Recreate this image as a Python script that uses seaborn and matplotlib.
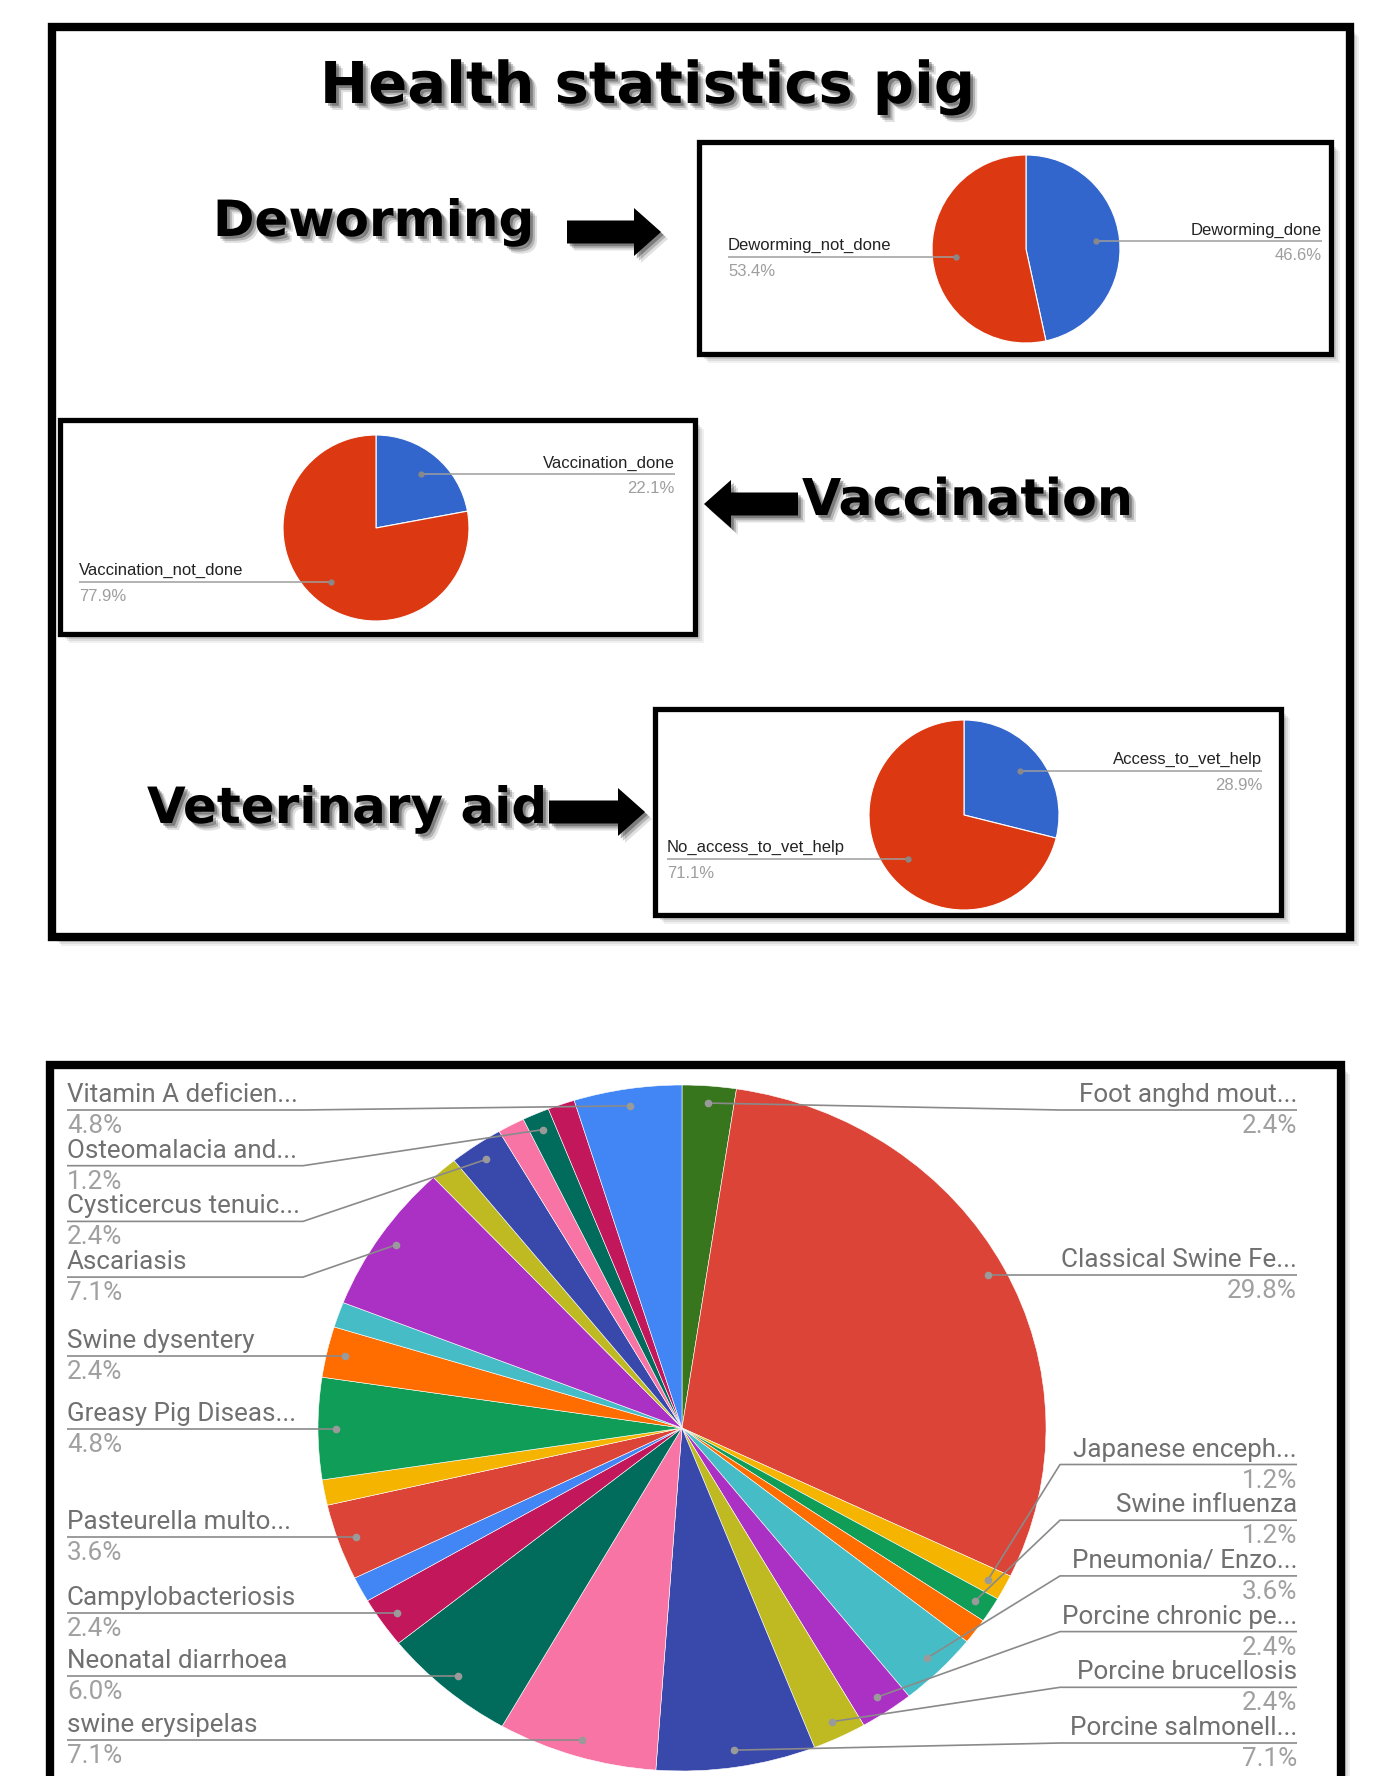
import numpy as np
import matplotlib
matplotlib.use("Agg")
import matplotlib.pyplot as plt
import matplotlib.patches as mpatches
import matplotlib.patheffects as pe
import seaborn as sns

W, H = 1378, 1776

# ── data ──────────────────────────────────────────────────────────────────────
deworm_labels = ["Deworming_done", "Deworming_not_done"]
deworm_pct = [46.6, 53.4]

vacc_labels = ["Vaccination_done", "Vaccination_not_done"]
vacc_pct = [22.1, 77.9]

vet_labels = ["Access_to_vet_help", "No_access_to_vet_help"]
vet_pct = [28.9, 71.1]

# clockwise from 12 o'clock; None = label hidden in the original chart
disease_labels = [
    "Foot anghd mout...", "Classical Swine Fe...", "Japanese enceph...",
    "Swine influenza", None, "Pneumonia/ Enzo...", "Porcine chronic pe...",
    "Porcine brucellosis", "Porcine salmonell...", "swine erysipelas",
    "Neonatal diarrhoea", "Campylobacteriosis", None, "Pasteurella multo...",
    None, "Greasy Pig Diseas...", "Swine dysentery", None, "Ascariasis", None,
    "Cysticercus tenuic...", None, "Osteomalacia and...", None,
    "Vitamin A deficien...",
]
disease_pct = [2.4, 29.8, 1.2, 1.2, 1.2, 3.6, 2.4, 2.4, 7.1, 7.1, 6.0, 2.4,
               1.2, 3.6, 1.2, 4.8, 2.4, 1.2, 7.1, 1.2, 2.4, 1.2, 1.2, 1.2, 4.8]

SMALL_COLORS = ["#3366cc", "#dc3912"]
SHEETS = ["#4285f4", "#db4437", "#f4b400", "#0f9d58", "#ff6d00", "#46bdc6",
          "#ab30c4", "#c0ba22", "#3949ab", "#f774a5", "#016b5c", "#c2185b"]
DISEASE_COLORS = sns.color_palette(["#38761d"] + [SHEETS[i % 12] for i in range(1, len(disease_pct))])

LINE = "#9e9e9e"

sns.set_theme(style="white")
plt.rcParams["font.family"] = ["DejaVu Sans"]

fig = plt.figure(figsize=(W / 100, H / 100), dpi=100, facecolor="white")

ax_bg = fig.add_axes([0, 0, 1, 1])
ax_bg.set_xlim(0, W)
ax_bg.set_ylim(H, 0)
ax_bg.axis("off")


def box(ax, x0, y0, x1, y1, lw):
    for k, a in [(9, 0.06), (7, 0.08), (5, 0.1), (3, 0.14)]:
        ax.add_patch(mpatches.Rectangle((x0 + k, y0 + k), x1 - x0, y1 - y0,
                                        facecolor="black", edgecolor="none", alpha=a))
    ax.add_patch(mpatches.Rectangle((x0, y0), x1 - x0, y1 - y0, facecolor="white",
                                    edgecolor="black", lw=lw))


SHADOW = [pe.SimplePatchShadow(offset=(5, -5), shadow_rgbFace="black", alpha=0.12),
          pe.SimplePatchShadow(offset=(3.5, -3.5), shadow_rgbFace="black", alpha=0.2),
          pe.SimplePatchShadow(offset=(2, -2), shadow_rgbFace="black", alpha=0.3),
          pe.Normal()]

# frames
box(ax_bg, 52, 27, 1350, 937, 6)
box(ax_bg, 699, 142, 1331, 354, 3.8)
box(ax_bg, 60, 420, 695, 634, 3.8)
box(ax_bg, 655, 709, 1281, 915, 3.8)
box(ax_bg, 50, 1065, 1341, 1850, 6)

# headings
ax_bg.text(648, 103, "Health statistics pig", ha="center", va="baseline",
           fontsize=41.5, fontweight="bold", color="black", path_effects=SHADOW)
ax_bg.text(213, 236, "Deworming", ha="left", va="baseline",
           fontsize=36, fontweight="bold", color="black", path_effects=SHADOW)
ax_bg.text(802, 515, "Vaccination", ha="left", va="baseline",
           fontsize=36.5, fontweight="bold", color="black", path_effects=SHADOW)
ax_bg.text(147, 823, "Veterinary aid", ha="left", va="baseline",
           fontsize=36, fontweight="bold", color="black", path_effects=SHADOW)

for x, y, dx in [(567, 232, 94), (798, 504, -94), (549, 812, 96)]:
    arr = mpatches.FancyArrow(x, y, dx, 0, width=23, head_width=48, head_length=27,
                              length_includes_head=True, color="black", lw=0)
    arr.set_path_effects(SHADOW)
    ax_bg.add_patch(arr)


# ── pies ──────────────────────────────────────────────────────────────────────
def pie_axes(cx, cy, rx, ry):
    return fig.add_axes([(cx - rx) / W, 1 - (cy + ry) / H, 2 * rx / W, 2 * ry / H])


def draw_pie(ax, values, colors, lw):
    wedges, _ = ax.pie(values, colors=colors, startangle=90, counterclock=False,
                       radius=1, wedgeprops=dict(edgecolor="white", linewidth=lw))
    ax.set_xlim(-1, 1)
    ax.set_ylim(-1, 1)
    ax.set_aspect("auto")
    ax.axis("off")
    for w in wedges:
        w.set_clip_on(False)
    return wedges


ax_dw = pie_axes(1026, 249, 94, 94)
w_dw = draw_pie(ax_dw, deworm_pct, SMALL_COLORS, 0.8)
ax_vc = pie_axes(376, 528, 93, 93)
w_vc = draw_pie(ax_vc, vacc_pct, SMALL_COLORS, 0.8)
ax_vt = pie_axes(964, 815, 95, 95)
w_vt = draw_pie(ax_vt, vet_pct, SMALL_COLORS, 0.8)

PIE_CX, PIE_CY = 682, 1428
ax_big = pie_axes(PIE_CX, PIE_CY, 364, 343)
w_big = draw_pie(ax_big, disease_pct, DISEASE_COLORS, 0.4)

ax_top = fig.add_axes([0, 0, 1, 1])
ax_top.set_xlim(0, W)
ax_top.set_ylim(H, 0)
ax_top.axis("off")
ax_top.patch.set_alpha(0)


def anchor(ax, wedge, frac):
    mid = np.deg2rad((wedge.theta1 + wedge.theta2) / 2)
    disp = ax.transData.transform((frac * np.cos(mid), frac * np.sin(mid)))
    return ax_top.transData.inverted().transform(disp)


# small pie labels: (axes, wedges, labels, values, text x per slice)
small_specs = [
    (ax_dw, w_dw, deworm_labels, deworm_pct, [1322, 728]),
    (ax_vc, w_vc, vacc_labels, vacc_pct, [675, 79]),
    (ax_vt, w_vt, vet_labels, vet_pct, [1262, 667]),
]
for ax, wedges, labels, vals, xs in small_specs:
    for w, name, v, tx in zip(wedges, labels, vals, xs):
        dx, dy = anchor(ax, w, 0.75)
        ha = "right" if tx > dx else "left"
        ax_top.plot([tx, dx], [dy, dy], color=LINE, lw=1.1, solid_capstyle="butt")
        ax_top.plot([dx], [dy], "o", ms=3.5, color="#888888")
        ax_top.text(tx, dy - 7, name, ha=ha, va="baseline", fontsize=12,
                    color="#222222", family="Liberation Sans")
        ax_top.text(tx, dy + 19, f"{v:.1f}%", ha=ha, va="baseline", fontsize=12,
                    color="#9e9e9e", family="Liberation Sans")

# big pie labels, stacked per side like the sheets chart does
sides = {"left": [], "right": []}
for w, name, v in zip(w_big, disease_labels, disease_pct):
    if name is None:
        continue
    dx, dy = anchor(ax_big, w, 0.95)
    sides["left" if dx < PIE_CX else "right"].append((dy, dx, name, v))

GAP, YMIN, YMAX = 55.7, 1110, 1743
TEXT_X = {"left": 67, "right": 1297}
BEND_X = {"left": 303, "right": 1060}
for side, items in sides.items():
    items.sort()
    ys = [it[0] for it in items]
    ys[0] = max(ys[0], YMIN)
    for i in range(1, len(ys)):
        ys[i] = max(ys[i], ys[i - 1] + GAP)
    ys[-1] = min(ys[-1], YMAX)
    for i in range(len(ys) - 2, -1, -1):
        ys[i] = min(ys[i], ys[i + 1] - GAP)
    tx = TEXT_X[side]
    ha = "left" if side == "left" else "right"
    for (dy, dx, name, v), ly in zip(items, ys):
        if abs(ly - dy) > 1:
            px, py = [tx, BEND_X[side], dx], [ly, ly, dy]
        else:
            ly = dy
            px, py = [tx, dx], [dy, dy]
        ax_top.plot(px, py, color="#8a8a8a", lw=1.2, solid_capstyle="butt")
        ax_top.plot([dx], [dy], "o", ms=4.5, color="#9a9a9a")
        ax_top.text(tx, ly - 8, name, ha=ha, va="baseline", fontsize=18.7,
                    color="#707070", family="Roboto")
        ax_top.text(tx, ly + 23, f"{v:.1f}%", ha=ha, va="baseline", fontsize=18.7,
                    color="#a0a0a0", family="Roboto")

fig.savefig("out.png", dpi=100, facecolor="white")
